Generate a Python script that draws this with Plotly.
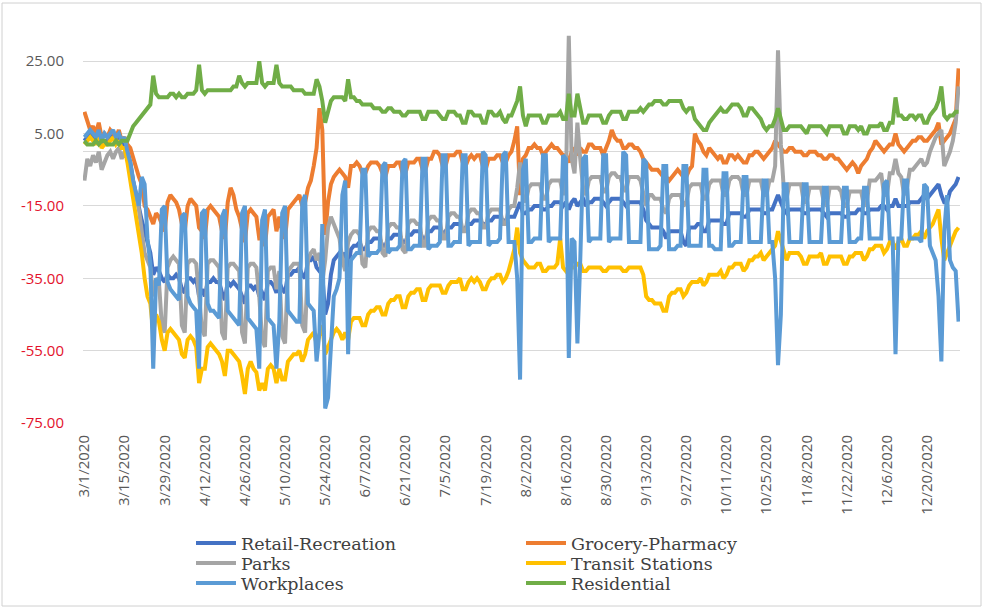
import pandas as pd
import plotly.graph_objects as go

# daily values, 3/1/2020 .. 12/31/2020, one row per week (Sun..Sat)
dates = pd.date_range("2020-03-01", "2020-12-31", freq="D")

retail = [
    3, 4, 5, 4, 3, 5, 2,
    3, 3, 4, 5, 3, 4, 2,
    2, 0, -3, -8, -12, -16, -19,
    -22, -25, -28, -34, -32, -33, -35,
    -36, -34, -35, -35, -34, -35, -38,
    -39, -35, -35, -36, -35, -40, -38,
    -40, -36, -36, -35, -36, -36, -39,
    -41, -36, -37, -36, -37, -38, -40,
    -42, -37, -37, -38, -37, -40, -39,
    -41, -36, -36, -37, -39, -36, -38,
    -39, -34, -34, -33, -33, -32, -34,
    -35, -30, -30, -29, -32, -33, -34,
    -45, -42, -34, -30, -29, -28, -29,
    -28, -32, -27, -26, -26, -25, -27,
    -27, -25, -25, -24, -24, -24, -26,
    -26, -24, -24, -23, -23, -23, -25,
    -25, -23, -23, -22, -22, -22, -24,
    -24, -22, -22, -21, -21, -21, -23,
    -22, -21, -21, -20, -20, -20, -22,
    -21, -20, -20, -19, -19, -19, -20,
    -20, -19, -19, -18, -18, -18, -19,
    -19, -18, -18, -18, -16, -14, -17,
    -17, -16, -16, -15, -15, -15, -16,
    -16, -15, -15, -14, -14, -14, -15,
    -14, -16, -14, -13, -15, -14, -13,
    -15, -14, -14, -13, -13, -13, -14,
    -15, -14, -13, -13, -13, -13, -14,
    -15, -14, -14, -14, -14, -14, -16,
    -19, -20, -21, -21, -21, -21, -22,
    -24, -22, -22, -22, -22, -22, -25,
    -26, -21, -21, -21, -20, -20, -22,
    -22, -19, -19, -19, -19, -19, -20,
    -20, -17, -17, -17, -17, -17, -18,
    -18, -16, -16, -16, -16, -16, -17,
    -17, -16, -16, -14, -12, -14, -16,
    -17, -16, -16, -16, -16, -16, -17,
    -17, -16, -16, -16, -16, -16, -17,
    -18, -17, -17, -17, -17, -17, -18,
    -18, -17, -17, -17, -16, -16, -17,
    -17, -16, -16, -16, -16, -15, -15,
    -16, -15, -15, -13, -15, -15, -15,
    -15, -14, -14, -14, -14, -13, -12,
    -13, -12, -11, -10, -9, -12, -14,
    -14, -11, -10, -9, -7,
]

grocery = [
    11, 8, 6, 7, 5, 8, 4,
    5, 4, 6, 5, 4, 6, 3,
    4, 2, 1, -2, -5, -7, -9,
    -15, -16, -18, -20, -17, -18, -20,
    -22, -14, -12, -13, -14, -16, -20,
    -22, -15, -13, -14, -15, -21, -22,
    -24, -16, -15, -16, -17, -18, -22,
    -24, -14, -10, -12, -16, -18, -22,
    -25, -17, -16, -17, -18, -24, -24,
    -26, -18, -17, -16, -22, -18, -22,
    -24, -16, -15, -14, -13, -12, -15,
    -14, -10, -8, -4, 1, 12, 6,
    -23, -14, -9, -7, -6, -5, -6,
    -7, -10, -4, -4, -3, -4, -6,
    -6, -4, -3, -3, -3, -4, -6,
    -7, -4, -4, -4, -3, -3, -6,
    -6, -3, -3, -3, -2, -2, -5,
    -5, -2, -2, 0, 0, -1, -4,
    -4, -1, -1, -1, 0, 0, -3,
    -4, -2, -1, -2, -1, -1, -4,
    -5, -2, -2, -2, -1, -1, -3,
    -3, -1, 0, 3, 7, -12, -2,
    -1, 1, 1, 2, 1, 1, -1,
    0, 1, 2, 1, 1, 0, -1,
    -1, -3, 0, 1, -1, 1, 0,
    0, 2, 2, 1, 1, 1, -1,
    1, 3, 6, 4, 3, 3, 1,
    1, 2, 2, 1, 1, 0, -2,
    -3, -4, -5, -5, -5, -6, -7,
    -7, -8, -7, -6, -5, -6, -7,
    -7, -5, -4, 5, 3, 2, 0,
    -1, 1, 0, -1, -2, -1, -3,
    -3, -1, -1, -2, -1, -2, -3,
    -3, -1, -1, 0, 0, -1, -2,
    -1, 0, 1, 3, 2, 1, 0,
    0, 1, 1, 0, 0, 0, -1,
    -1, 0, 0, 0, -1, -1, -2,
    -2, -1, -1, -2, -2, -3, -4,
    -5, -4, -3, -4, -6, -4, -3,
    -2, 0, 1, 3, 2, 1, 0,
    1, 2, 2, 5, 2, 1, 0,
    1, 2, 3, 3, 4, 4, 3,
    3, 4, 5, 6, 8, 2, 3,
    4, 5, 7, 9, 23,
]

parks = [
    -8, -2, -4, -1, -3, 0, -5,
    -3, -1, 0, -2, 0, 1, -2,
    0, -2, -5, -8, -12, -16, -22,
    -28, -30, -32, -40, -35, -36, -48,
    -50, -32, -30, -29, -30, -31, -48,
    -50, -31, -30, -30, -31, -40, -49,
    -51, -31, -30, -30, -31, -32, -50,
    -52, -32, -31, -31, -32, -33, -50,
    -53, -32, -31, -31, -32, -40, -52,
    -54, -33, -32, -32, -38, -33, -51,
    -53, -33, -32, -31, -31, -31, -48,
    -50, -30, -28, -27, -30, -28, -36,
    -30, -21, -18, -20, -22, -24, -30,
    -33, -25, -23, -22, -22, -23, -31,
    -32, -22, -21, -21, -22, -22, -28,
    -29, -21, -20, -20, -21, -21, -27,
    -28, -20, -19, -19, -20, -20, -26,
    -26, -19, -18, -18, -19, -19, -24,
    -24, -18, -17, -17, -18, -18, -22,
    -22, -17, -16, -16, -17, -17, -21,
    -21, -17, -16, -16, -16, -16, -20,
    -20, -16, -15, -15, -10, -3, -12,
    -14, -10, -9, -9, -9, -9, -13,
    -13, -9, -8, -8, -8, -8, -12,
    -8, 32, -2, -6, 8, -2, -10,
    -12, -8, -7, -7, -7, -7, -11,
    -11, -7, -6, -6, -7, -7, -10,
    -11, -7, -7, -7, -7, -8, -12,
    -15, -12, -12, -13, -13, -13, -16,
    -17, -13, -12, -12, -12, -12, -15,
    -14, -10, -9, -9, -9, -9, -13,
    -13, -9, -8, -8, -8, -8, -12,
    -12, -8, -7, -7, -7, -8, -12,
    -12, -8, -8, -8, -8, -8, -12,
    -12, -8, -8, -4, 28, 2, -10,
    -13, -9, -9, -9, -9, -9, -14,
    -14, -10, -10, -10, -10, -10, -14,
    -15, -10, -10, -10, -10, -11, -15,
    -15, -11, -11, -11, -11, -11, -15,
    -14, -8, -8, -8, -7, -6, -12,
    -12, -6, -6, -2, -6, -7, -12,
    -10, -5, -5, -4, -3, -2, -4,
    -3, 0, 2, 4, 5, 6, -4,
    -2, 0, 3, 8, 18,
]

transit = [
    2, 3, 4, 3, 2, 4, 1,
    2, 2, 3, 4, 2, 3, 1,
    1, -3, -8, -12, -18, -22, -28,
    -35, -40, -42, -50, -45, -47, -52,
    -55, -50, -49, -50, -51, -52, -56,
    -57, -52, -51, -52, -54, -64, -60,
    -60, -54, -53, -54, -55, -56, -58,
    -62, -55, -55, -56, -57, -58, -62,
    -67, -60, -58, -60, -61, -66, -64,
    -66, -60, -59, -60, -64, -60, -63,
    -63, -58, -57, -56, -56, -55, -58,
    -56, -52, -51, -50, -53, -50, -48,
    -56, -54, -52, -50, -49, -50, -52,
    -50, -52, -47, -46, -46, -46, -48,
    -48, -45, -44, -44, -43, -43, -45,
    -45, -42, -41, -41, -40, -40, -43,
    -43, -40, -39, -39, -38, -38, -41,
    -41, -38, -37, -37, -37, -37, -39,
    -39, -37, -36, -36, -36, -35, -38,
    -38, -36, -35, -36, -35, -36, -38,
    -38, -36, -35, -35, -34, -34, -36,
    -35, -33, -30, -27, -21, -28, -30,
    -31, -32, -32, -32, -31, -31, -33,
    -33, -32, -32, -32, -31, -24, -32,
    -33, -32, -32, -32, -31, -31, -33,
    -33, -32, -32, -32, -32, -32, -33,
    -33, -32, -32, -32, -32, -32, -33,
    -33, -32, -32, -32, -32, -32, -34,
    -40, -41, -41, -42, -42, -42, -44,
    -44, -40, -39, -39, -38, -38, -40,
    -39, -37, -36, -36, -36, -35, -37,
    -36, -34, -34, -34, -34, -33, -35,
    -34, -32, -32, -31, -31, -31, -33,
    -32, -30, -30, -29, -29, -28, -30,
    -29, -28, -27, -26, -22, -25, -28,
    -30, -28, -28, -28, -28, -29, -31,
    -31, -29, -29, -29, -29, -28, -31,
    -31, -29, -29, -29, -29, -29, -31,
    -31, -29, -29, -28, -28, -28, -30,
    -29, -27, -27, -26, -26, -26, -28,
    -27, -25, -25, -27, -25, -24, -26,
    -26, -24, -24, -23, -23, -22, -24,
    -22, -21, -20, -18, -16, -24, -30,
    -28, -26, -24, -22, -21,
]

workplaces = [
    4, 5, 6, 5, 4, 6, 3,
    5, 4, 5, 6, 4, 5, 3,
    4, 0, -3, -8, -12, -15, -7,
    -9, -24, -31, -60, -35, -37, -16,
    -15, -36, -38, -39, -40, -41, -18,
    -17, -40, -42, -43, -44, -60, -17,
    -16, -42, -44, -44, -45, -46, -18,
    -16, -44, -45, -46, -47, -48, -17,
    -15, -46, -47, -48, -49, -60, -19,
    -16, -46, -47, -48, -60, -47, -17,
    -15, -44, -45, -46, -47, -47, -14,
    -12, -42, -43, -44, -58, -50, -20,
    -71, -68, -55, -40, -38, -35, -12,
    -8, -56, -30, -29, -28, -28, -5,
    -5, -29, -28, -28, -28, -27, -4,
    -3, -28, -27, -27, -27, -26, -3,
    -2, -27, -27, -26, -26, -26, -2,
    -2, -27, -26, -26, -26, -25, -1,
    -1, -26, -26, -25, -25, -25, -1,
    -1, -26, -25, -25, -25, -25, 0,
    -1, -26, -25, -25, -25, -24, -1,
    0, -25, -25, -25, -35, -63, -5,
    -2, -25, -25, -24, -24, -24, -1,
    -1, -25, -24, -24, -24, -24, -1,
    -2, -57, -24, -25, -53, -30, -2,
    -1, -25, -24, -24, -24, -24, -1,
    -1, -25, -24, -24, -24, -24, 0,
    -1, -25, -25, -25, -25, -25, -2,
    -3, -27, -27, -27, -27, -26, -4,
    -4, -27, -27, -27, -26, -26, -4,
    -4, -26, -26, -26, -26, -26, -5,
    -5, -26, -26, -27, -27, -27, -6,
    -6, -26, -26, -25, -25, -25, -7,
    -7, -25, -25, -25, -25, -25, -8,
    -8, -25, -25, -35, -59, -45, -9,
    -9, -25, -25, -25, -25, -25, -9,
    -9, -25, -25, -25, -25, -25, -10,
    -10, -25, -25, -25, -25, -25, -10,
    -10, -25, -25, -25, -24, -24, -10,
    -10, -24, -24, -24, -24, -24, -9,
    -8, -24, -24, -56, -24, -24, -8,
    -8, -24, -24, -24, -24, -25, -9,
    -10, -26, -28, -30, -40, -58, -22,
    -12, -30, -32, -33, -47,
]

residential = [
    3, 2, 2, 2, 3, 2, 3,
    3, 2, 2, 2, 3, 2, 3,
    3, 3, 5, 7, 8, 9, 10,
    11, 12, 13, 21, 16, 15, 15,
    15, 15, 16, 16, 15, 16, 15,
    15, 16, 16, 16, 17, 24, 17,
    16, 17, 17, 17, 17, 17, 17,
    17, 17, 17, 18, 18, 21, 19,
    18, 19, 19, 19, 19, 25, 19,
    18, 19, 19, 19, 24, 19, 18,
    18, 18, 18, 17, 17, 17, 17,
    16, 16, 16, 16, 20, 18, 14,
    8, 11, 14, 15, 15, 15, 15,
    14, 20, 15, 15, 14, 14, 13,
    13, 13, 13, 12, 12, 12, 11,
    11, 12, 12, 11, 11, 11, 10,
    10, 11, 11, 11, 11, 11, 9,
    9, 11, 11, 11, 11, 10, 9,
    9, 11, 11, 11, 10, 10, 8,
    8, 11, 11, 10, 10, 10, 8,
    8, 11, 11, 10, 10, 11, 9,
    8, 10, 10, 12, 14, 18, 10,
    7, 10, 10, 10, 10, 10, 8,
    8, 10, 10, 10, 10, 11, 9,
    9, 16, 10, 10, 16, 12, 8,
    8, 10, 10, 10, 10, 10, 8,
    8, 10, 11, 11, 11, 11, 9,
    9, 11, 11, 11, 11, 12, 11,
    12, 13, 13, 14, 14, 14, 13,
    13, 14, 14, 14, 14, 14, 12,
    11, 12, 12, 9, 8, 7, 6,
    6, 8, 9, 10, 11, 12, 11,
    11, 12, 13, 13, 13, 12, 10,
    10, 12, 12, 11, 10, 9, 7,
    6, 7, 7, 9, 12, 9, 6,
    6, 7, 7, 7, 7, 7, 6,
    5, 7, 7, 7, 7, 7, 6,
    5, 7, 7, 7, 7, 7, 5,
    5, 7, 7, 7, 6, 7, 5,
    5, 7, 7, 7, 7, 8, 6,
    6, 8, 8, 15, 10, 10, 9,
    9, 10, 10, 9, 10, 10, 8,
    8, 10, 11, 12, 14, 18, 10,
    9, 10, 10, 11, 11,
]

tick_labels = ["3/1/2020", "3/15/2020", "3/29/2020", "4/12/2020", "4/26/2020",
               "5/10/2020", "5/24/2020", "6/7/2020", "6/21/2020", "7/5/2020",
               "7/19/2020", "8/2/2020", "8/16/2020", "8/30/2020", "9/13/2020",
               "9/27/2020", "10/11/2020", "10/25/2020", "11/8/2020", "11/22/2020",
               "12/6/2020", "12/20/2020"]
y_ticks = [-75, -55, -35, -15, 5, 25]

# legend rows: two entries per row
series = [
    ("Retail-Recreation", retail, "#4472C4", "legend"),
    ("Grocery-Pharmacy", grocery, "#ED7D31", "legend"),
    ("Parks", parks, "#A5A5A5", "legend2"),
    ("Transit Stations", transit, "#FFC000", "legend2"),
    ("Workplaces", workplaces, "#5B9BD5", "legend3"),
    ("Residential", residential, "#70AD47", "legend3"),
]

fig = go.Figure()
for name, vals, col, leg in series:
    assert len(vals) == len(dates), (name, len(vals))
    fig.add_trace(go.Scatter(x=dates, y=vals, name=name, mode="lines",
                             line=dict(color=col, width=4), legend=leg))


def ytxt(v):
    s = f"{v:.2f}"
    return f'<span style="fill:#E3122B">{s}</span>' if v < 0 else s


W, H = 984, 609
L, R, T, B = 83, 24, 25, 186
pw, ph = W - L - R, H - T - B


def px(x):
    return (x - L) / pw


def py(y):
    return (H - B - y) / ph


def leg_row(yc):
    # container coords so the legends don't push the plot margins
    return dict(orientation="h", xref="container", yref="container",
                x=191 / W, y=1 - yc / H, xanchor="left", yanchor="middle",
                font=dict(family="DejaVu Serif", size=17.5, color="#404040"),
                entrywidth=275, entrywidthmode="pixels", itemwidth=40,
                bgcolor="rgba(0,0,0,0)", traceorder="normal")


fig.update_layout(
    width=W, height=H,
    margin=dict(l=L, r=R, t=T, b=B),
    paper_bgcolor="white", plot_bgcolor="white",
    font=dict(family="Open Sans", color="#595959"),
    legend=leg_row(543),
    legend2=leg_row(563),
    legend3=leg_row(583),
    xaxis=dict(range=["2020-02-29 12:00", "2020-12-31 12:00"],
               tickvals=pd.to_datetime(tick_labels, format="%m/%d/%Y"),
               ticktext=tick_labels, tickangle=-90,
               tickfont=dict(size=15, color="#595959"),
               showgrid=False, zeroline=False, showline=False,
               ticklabelstandoff=8, automargin=False),
    yaxis=dict(range=[-75, 35], tickvals=y_ticks,
               ticktext=[ytxt(v) for v in y_ticks],
               tickfont=dict(size=15, color="#595959"),
               showgrid=True, gridcolor="#D9D9D9", gridwidth=1,
               zeroline=True, zerolinecolor="#D9D9D9", zerolinewidth=1,
               showline=False, ticks="", ticklabelstandoff=18, automargin=False),
    shapes=[dict(type="rect", xref="paper", yref="paper",
                 x0=px(2), x1=px(981), y0=py(606), y1=py(3),
                 line=dict(color="#D0D0D0", width=1), layer="below")],
)

# drop the page's default 8px body margin so the figure sits at (0, 0)
fig.write_html("out.html", config={"displayModeBar": False},
               post_script="document.body.style.margin='0';")
